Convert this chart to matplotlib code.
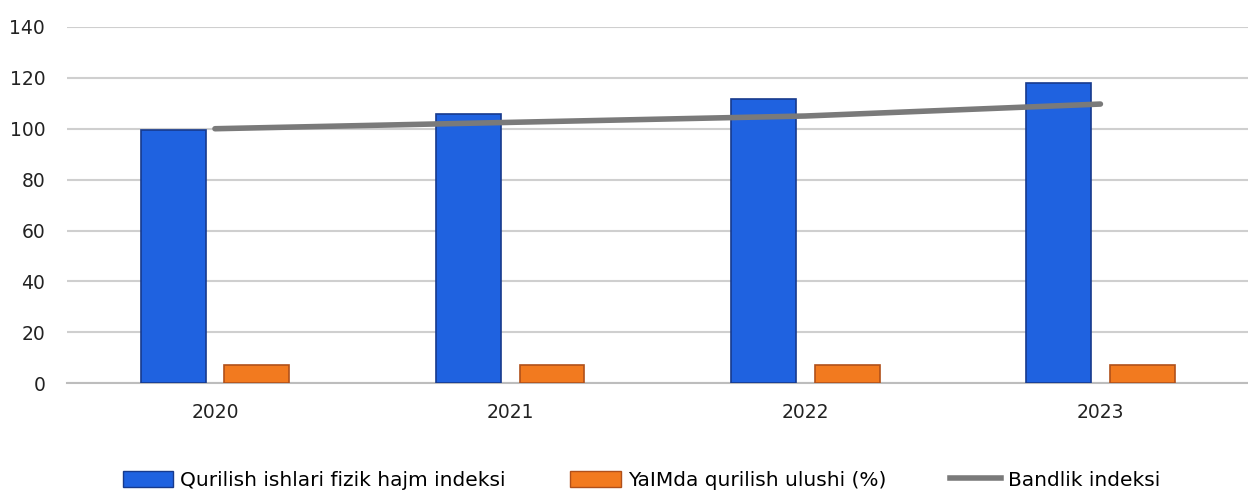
import numpy as np
import matplotlib.pyplot as plt
from matplotlib.lines import Line2D
from matplotlib.patches import Patch

years = ['2020', '2021', '2022', '2023']
fizik_hajm = [99.5, 105.8, 111.8, 118.1]   # Qurilish ishlari fizik hajm indeksi
yalm_ulush = [7.0, 7.0, 7.0, 7.0]          # YaIMda qurilish ulushi (%)
bandlik = [100.0, 102.5, 105.0, 109.7]     # Bandlik indeksi

plt.rcParams['font.family'] = ['DejaVu Sans']

fig = plt.figure(figsize=(12.48, 4.9), dpi=100)
ax = fig.add_axes([0.054, 0.218, 0.946, 0.727])

x = np.arange(len(years))
w = 0.22
ax.bar(x - 0.142, fizik_hajm, w, color='#1f62e0', edgecolor='#173a8c', linewidth=1.2, zorder=3)
ax.bar(x + 0.142, yalm_ulush, w, color='#f27a1f', edgecolor='#b0501a', linewidth=1.2, zorder=3)
ax.plot(x, bandlik, color='#7a7a7a', linewidth=4, solid_capstyle='round', zorder=4)

ax.set_xlim(-0.5, 3.5)
ax.set_ylim(0, 140)
ax.set_yticks(range(0, 141, 20))
ax.set_xticks(x)
ax.set_xticklabels(years)
ax.tick_params(axis='both', length=0, labelsize=13.5, colors='#222222')
ax.tick_params(axis='x', pad=14)
ax.tick_params(axis='y', pad=16)
ax.grid(axis='y', color='#cfcfcf', linewidth=1.5, zorder=0)
for s in ['top', 'right', 'left']:
    ax.spines[s].set_visible(False)
ax.spines['bottom'].set_color('#bdbdbd')
ax.spines['bottom'].set_linewidth(1.5)

handles = [
    Patch(facecolor='#1f62e0', edgecolor='#173a8c', label='Qurilish ishlari fizik hajm indeksi'),
    Patch(facecolor='#f27a1f', edgecolor='#b0501a', label='YaIMda qurilish ulushi (%)'),
    Line2D([0], [0], color='#7a7a7a', linewidth=4, label='Bandlik indeksi'),
]
fig.legend(handles=handles, loc='center', bbox_to_anchor=(0.514, 0.02), ncol=3,
           frameon=False, fontsize=14.5, handlelength=2.5, handleheight=0.9,
           handletextpad=0.35, columnspacing=3.2)

fig.savefig('out.png', dpi=100)
